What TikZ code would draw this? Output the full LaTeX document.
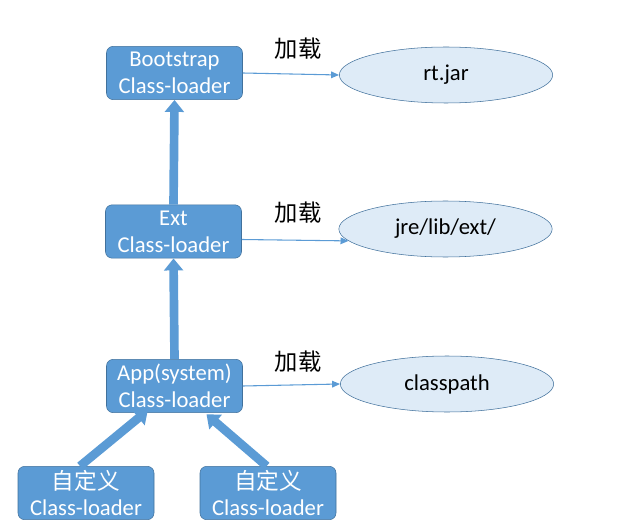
\documentclass[tikz,border=0pt]{standalone}
\usepackage{fontspec}
\setmainfont{Carlito}
\newfontfamily\cjk{Noto Sans CJK SC}
\usepackage{tikz}
\usetikzlibrary{
    shapes.geometric,
    arrows.meta,
    positioning,
    calc
}
\definecolor{loaderblue}{HTML}{5B9BD5}
\definecolor{loaderedge}{HTML}{41719C}
\definecolor{jarfill}{HTML}{DEEBF7}
\tikzset{
    % Class-loader box
    loaderbox/.style={
        rectangle,
        rounded corners=5pt,
        draw=loaderedge,
        fill=loaderblue,
        text=white,
        font=\fontsize{17}{20}\selectfont,
        minimum width=102pt,
        minimum height=40pt,
        align=center,
        inner sep=2pt
    },
    % Loaded path (ellipse)
    jarnode/.style={
        ellipse,
        draw=loaderedge,
        fill=jarfill,
        text=black,
        font=\fontsize{17}{20}\selectfont,
        minimum width=160pt,
        minimum height=42pt,
        inner sep=0pt
    },
    % Label above the load arrow
    loadlabel/.style={
        font=\cjk\fontsize{17.5}{20}\selectfont,
        text=black
    },
    % Thin load arrow
    loadarrow/.style={
        -{Triangle[length=6pt,width=5pt]},
        line width=0.8pt,
        color=loaderblue
    },
    % Fat parent arrow
    fatarrow/.style={
        -{Triangle[length=9pt,width=14pt]},
        line width=6.5pt,
        color=loaderblue
    }
}

\begin{document}
\begin{tikzpicture}[x=0.75pt, y=-0.75pt]
    \useasboundingbox (0,0) rectangle (631,527);

    % Class-loaders
    \node[loaderbox] (boot) at (174.5,73) {Bootstrap\\Class-loader};
    \node[loaderbox] (ext) at (173.5,231.5) {Ext\\Class-loader};
    \node[loaderbox] (app) at (174.5,386) {App(system)\\Class-loader};
    \node[loaderbox] (custa) at (86,493) {{\cjk 自定义}\\Class-loader};
    \node[loaderbox] (custb) at (268,493) {{\cjk 自定义}\\Class-loader};

    % Loaded paths
    \node[jarnode] (rt) at (446,75) {rt.jar};
    \node[jarnode] (jre) at (445.5,229) {jre/lib/ext/};
    \node[jarnode] (cp) at (447,384) {classpath};

    % Labels
    \node[loadlabel] (lbboot) at (298,49) {加载};
    \node[loadlabel] (lbext) at (298,213) {加载};
    \node[loadlabel] (lbapp) at (298,362) {加载};

    % Load arrows
    \draw[loadarrow] (boot.east) -- (rt.west);
    \draw[loadarrow] ([yshift=-6pt]ext.east) -- (jre.187);
    \draw[loadarrow] (app.east) -- (cp.west);

    % Parent arrows
    \draw[fatarrow] (ext.north) -- (boot.south);
    \draw[fatarrow] (app.north) -- (ext.south);
    \draw[fatarrow] ([xshift=-4.5pt]custa.north) -- ([xshift=-20pt,yshift=2pt]app.south);
    \draw[fatarrow] ([xshift=-1pt]custb.north) -- ([xshift=24pt,yshift=-1pt]app.south);

\end{tikzpicture}
\end{document}
